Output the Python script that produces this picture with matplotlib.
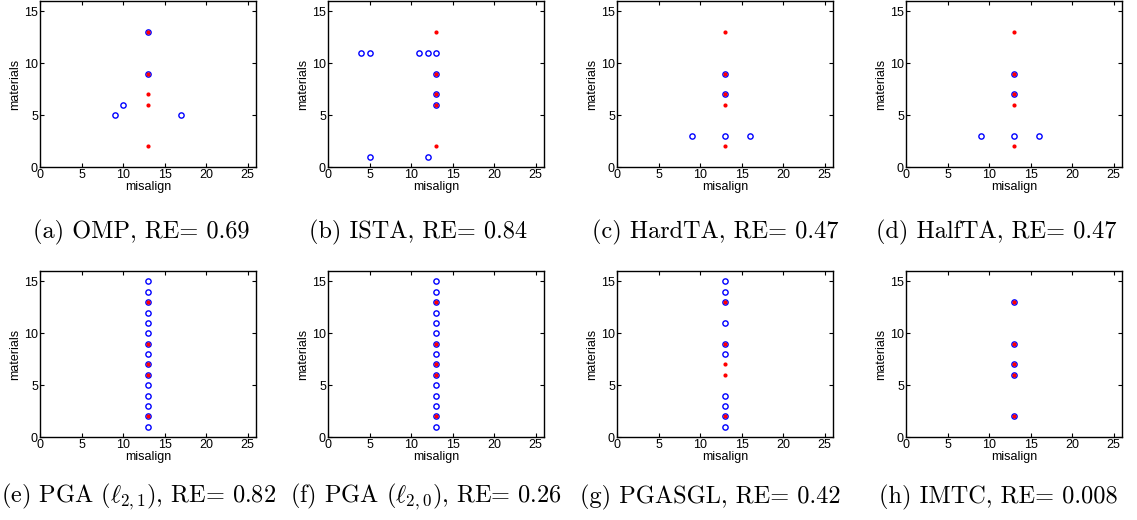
import numpy as np
import matplotlib
matplotlib.use("Agg")
from matplotlib import pyplot as plt

plt.rcParams['font.family'] = ['Liberation Sans', 'DejaVu Sans']
plt.rcParams['mathtext.fontset'] = 'cm'

# true support (red dots), same in every panel
true_x = [13, 13, 13, 13, 13]
true_y = [2, 6, 7, 9, 13]

# recovered support (blue circles) per method
omp_x = [13, 13, 10, 9, 17]
omp_y = [13, 9, 6, 5, 5]
ista_x = [4, 5, 11, 12, 13, 13, 13, 13, 5, 12]
ista_y = [11, 11, 11, 11, 11, 9, 7, 6, 1, 1]
hardta_x = [13, 13, 9, 13, 16]
hardta_y = [9, 7, 3, 3, 3]
halfta_x = [13, 13, 9, 13, 16]
halfta_y = [9, 7, 3, 3, 3]
pga21_x = [13] * 15
pga21_y = list(range(1, 16))
pga20_x = [13] * 15
pga20_y = list(range(1, 16))
pgasgl_x = [13] * 10
pgasgl_y = [1, 2, 3, 4, 8, 9, 11, 13, 14, 15]
imtc_x = [13] * 5
imtc_y = [2, 6, 7, 9, 13]

captions = [
    '(a) OMP, RE= 0.69',
    '(b) ISTA, RE= 0.84',
    '(c) HardTA, RE= 0.47',
    '(d) HalfTA, RE= 0.47',
    r'(e) PGA ($\ell_{2,1}$), RE= 0.82',
    r'(f) PGA ($\ell_{2,0}$), RE= 0.26',
    '(g) PGASGL, RE= 0.42',
    '(h) IMTC, RE= 0.008',
]
est = [(omp_x, omp_y), (ista_x, ista_y), (hardta_x, hardta_y), (halfta_x, halfta_y),
       (pga21_x, pga21_y), (pga20_x, pga20_y), (pgasgl_x, pgasgl_y), (imtc_x, imtc_y)]

W, H = 1137, 520
fig = plt.figure(figsize=(W / 100, H / 100), dpi=100)

lefts = [40, 328, 617, 906]
tops = [1, 271]
aw, ah = 216, 166
cap_x = [141, 418, 715, 996, 139, 426, 710, 998]
cap_y = [232, 497]

for i in range(8):
    r, c = divmod(i, 4)
    ax = fig.add_axes([lefts[c] / W, 1 - (tops[r] + ah) / H, aw / W, ah / H])
    ex, ey = est[i]
    ax.plot(ex, ey, 'o', ls='none', mfc='none', mec='#0000ff', ms=3.8, mew=1.0)
    ax.plot(true_x, true_y, 'o', ls='none', mfc='#ff0000', mec='#ff0000', ms=3.0, mew=0)
    ax.set_xlim(0, 26)
    ax.set_ylim(0, 16)
    ax.set_xticks([0, 5, 10, 15, 20, 25])
    ax.set_yticks([0, 5, 10, 15])
    ax.tick_params(direction='in', top=True, right=True, labelsize=9, length=3, pad=1.5)
    ax.set_xlabel('misalign', fontsize=9, labelpad=0)
    ax.set_ylabel('materials', fontsize=9, labelpad=2)
    for s in ax.spines.values():
        s.set_linewidth(1.0)
    fig.text(cap_x[i] / W, 1 - cap_y[r] / H, captions[i], ha='center', va='center',
             fontsize=17.5, family='cmr10')

fig.savefig('out.png', dpi=100)
